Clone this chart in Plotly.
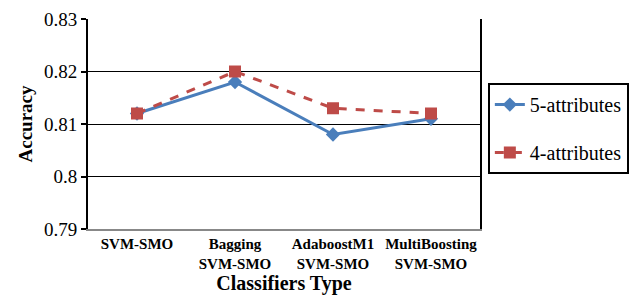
import plotly.graph_objects as go

categories = ["<b>SVM-SMO</b>", "<b>Bagging<br>SVM-SMO</b>", "<b>AdaboostM1<br>SVM-SMO</b>", "<b>MultiBoosting<br>SVM-SMO</b>"]
five_attr = [0.812, 0.818, 0.808, 0.811]
four_attr = [0.812, 0.820, 0.813, 0.812]
y_ticks = [0.79, 0.80, 0.81, 0.82, 0.83]
y_ticktext = ["0.79", "0.8", "0.81", "0.82", "0.83"]

font_family = "Liberation Serif, Times New Roman, serif"

fig = go.Figure()
fig.add_trace(go.Scatter(
    x=categories, y=five_attr, name="5-attributes", mode="lines+markers",
    line=dict(color="#4a7ebb", width=3),
    marker=dict(symbol="diamond", size=11, color="#4a7ebb"),
    legendgroup="a",
))
fig.add_trace(go.Scatter(
    x=categories, y=four_attr, name="4-attributes", mode="lines+markers",
    line=dict(color="#be4b48", width=3, dash="dash"),
    marker=dict(symbol="square", size=12, color="#be4b48"),
    legendgroup="b",
))

fig.update_layout(
    width=636, height=290,
    margin=dict(l=80, r=164, t=11, b=69),
    paper_bgcolor="white", plot_bgcolor="white",
    font=dict(family=font_family, color="black"),
    showlegend=True,
    legend=dict(
        x=1.02, y=0.695, xanchor="left", yanchor="top",
        bordercolor="black", borderwidth=2,
        font=dict(size=20, family=font_family, color="black"),
        tracegroupgap=19,
        bgcolor="white",
    ),
    xaxis=dict(
        type="category", range=[-0.5, 3.5], automargin=False,
        showgrid=False, showline=True, linecolor="#888888", linewidth=2,
        ticks="", tickfont=dict(size=15, family=font_family, color="black"),
        title=dict(text="<b>Classifiers Type</b>", font=dict(size=20, family=font_family), standoff=2),
    ),
    yaxis=dict(
        range=[0.79, 0.83], tickvals=y_ticks, ticktext=y_ticktext, automargin=False,
        showgrid=True, gridcolor="black", gridwidth=1,
        showline=True, linecolor="black", linewidth=2, mirror=True,
        ticks="outside", ticklen=5, tickcolor="black", tickwidth=2,
        tickfont=dict(size=19, family=font_family, color="black"),
        title=dict(text="<b>Accuracy</b>", font=dict(size=19, family=font_family), standoff=6),
        zeroline=False,
    ),
)

fig.write_html("out.html")
